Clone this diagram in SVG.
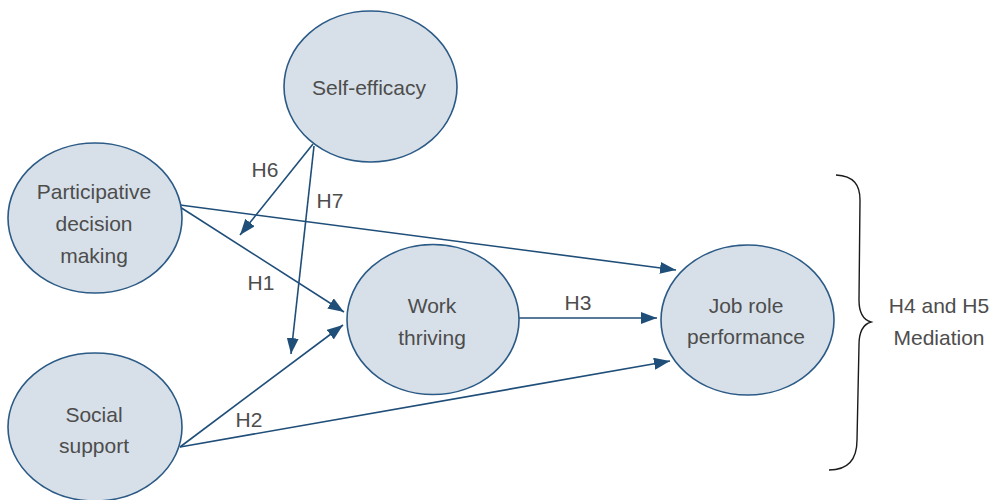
<svg xmlns="http://www.w3.org/2000/svg" width="990" height="500" viewBox="0 0 990 500">
  <style>
    .node ellipse { fill: #d7e0e8; stroke: #2b5a86; stroke-width: 1.6; }
    .label { font-family: "Liberation Sans", Arial, sans-serif; font-size: 21px; fill: #4d4d4d; text-anchor: middle; }
    .edge { stroke: #1f4e79; stroke-width: 1.6; fill: none; marker-end: url(#arrow); }
    .brace { stroke: #1a1a1a; stroke-width: 1.4; fill: none; }
  </style>
  <defs>
    <marker id="arrow" viewBox="0 0 16 12" refX="16" refY="6" markerWidth="16" markerHeight="12" markerUnits="userSpaceOnUse" orient="auto">
      <path d="M0,0 L16,6 L0,12 z" fill="#1f4e79"/>
    </marker>
  </defs>
  <rect width="990" height="500" fill="#ffffff"/>

  <g id="connectors">
    <!-- Self-efficacy moderating paths -->
    <line class="edge" x1="313" y1="144" x2="240" y2="235"/>
    <line class="edge" x1="314" y1="146" x2="291" y2="354"/>
    <!-- Participative decision making -->
    <line class="edge" x1="180" y1="205" x2="676" y2="270"/>
    <line class="edge" x1="180" y1="207" x2="344" y2="312"/>
    <!-- Social support -->
    <line class="edge" x1="180" y1="447" x2="343" y2="325"/>
    <line class="edge" x1="180" y1="447" x2="670" y2="361"/>
    <!-- Work thriving to Job role performance -->
    <line class="edge" x1="519" y1="318" x2="657" y2="318"/>
  </g>

  <g id="edge-labels">
    <text class="label" x="265" y="177">H6</text>
    <text class="label" x="330" y="208">H7</text>
    <text class="label" x="261" y="290">H1</text>
    <text class="label" x="249" y="427">H2</text>
    <text class="label" x="578" y="310">H3</text>
  </g>

  <g id="self-efficacy" class="node">
    <ellipse cx="370.5" cy="86.5" rx="86.5" ry="75.5"/>
    <text class="label" x="369" y="95">Self-efficacy</text>
  </g>

  <g id="participative-decision-making" class="node">
    <ellipse cx="95" cy="218" rx="87" ry="75"/>
    <text class="label" x="94" y="199">Participative</text>
    <text class="label" x="94" y="231">decision</text>
    <text class="label" x="94" y="263">making</text>
  </g>

  <g id="social-support" class="node">
    <ellipse cx="95" cy="427" rx="87" ry="74"/>
    <text class="label" x="94" y="422">Social</text>
    <text class="label" x="94" y="453">support</text>
  </g>

  <g id="work-thriving" class="node">
    <ellipse cx="433" cy="319.5" rx="86" ry="75"/>
    <text class="label" x="432" y="313">Work</text>
    <text class="label" x="432" y="345">thriving</text>
  </g>

  <g id="job-role-performance" class="node">
    <ellipse cx="747.5" cy="320" rx="86.5" ry="75"/>
    <text class="label" x="746" y="313">Job role</text>
    <text class="label" x="746" y="344">performance</text>
  </g>

  <g id="mediation">
    <path class="brace" d="M836,175 C854,176 860,185 860,200 L859,300 C859,313 864,320 871,322 C864,324 859,331 859,345 L857,440 C857,460 848,470 829,470"/>
    <text class="label" x="939" y="313">H4 and H5</text>
    <text class="label" x="939" y="345">Mediation</text>
  </g>
</svg>
